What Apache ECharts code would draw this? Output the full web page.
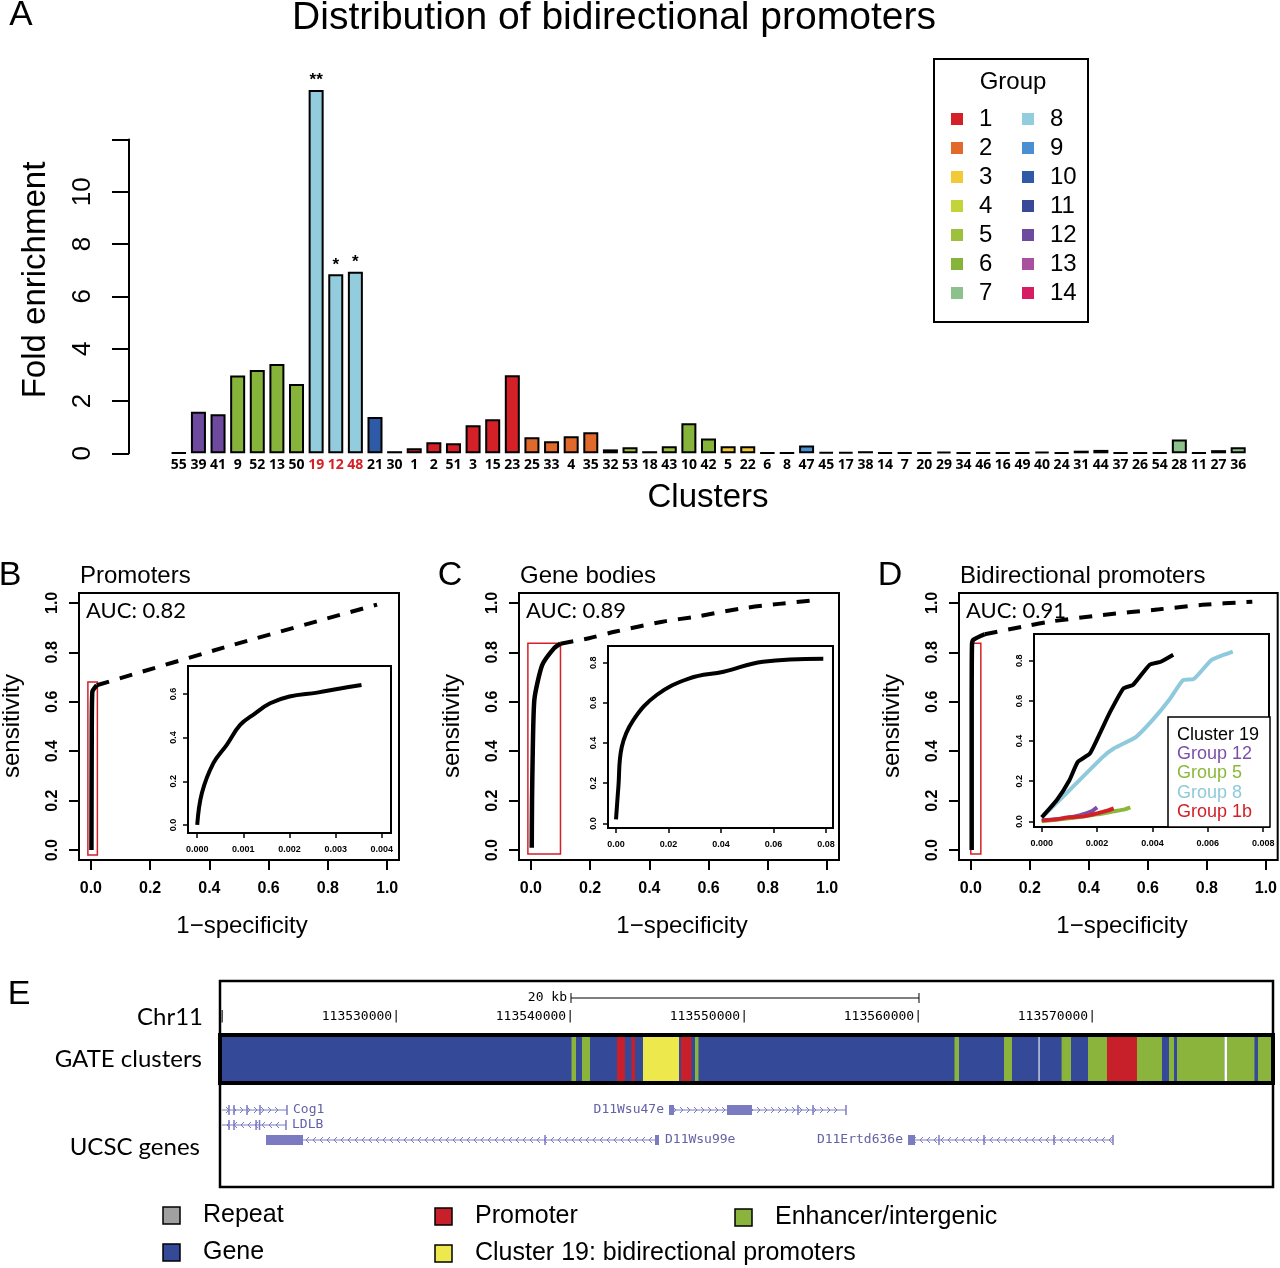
<!DOCTYPE html>
<html>
<head>
<meta charset="utf-8">
<script src="https://cdn.jsdelivr.net/npm/echarts@6/dist/echarts.min.js"></script>
<style>
html, body { margin: 0; padding: 0; background: #fff; }
#main { width: 1280px; height: 1268px; }
</style>
</head>
<body>
<div id="main"></div>
<script>
// ---- panel A data ----
var clusters = ['55','39','41','9','52','13','50','19','12','48','21','30','1','2','51','3','15','23','25','33','4','35','32','53','18','43','10','42','5','22','6','8','47','45','17','38','14','7','20','29','34','46','16','49','40','24','31','44','37','26','54','28','11','27','36'];
var enrichment = [0.02,1.59,1.49,2.97,3.18,3.41,2.65,13.89,6.84,6.94,1.39,0.08,0.19,0.42,0.38,1.07,1.3,2.98,0.61,0.46,0.65,0.8,0.15,0.23,0.08,0.27,1.15,0.57,0.27,0.27,0.02,0.02,0.3,0.05,0.05,0.08,0.03,0.03,0.03,0.06,0.03,0.03,0.03,0.03,0.06,0.03,0.1,0.13,0.03,0.03,0.03,0.53,0.03,0.12,0.23];
var clusterGroup = [13,12,12,6,6,6,6,8,8,8,10,11,1,1,1,1,1,1,2,2,2,2,5,5,5,5,6,6,3,3,4,4,9,14,14,14,14,14,14,14,14,14,14,14,14,14,14,14,14,14,14,7,14,14,7];
var groupLabels = ['1','2','3','4','5','6','7','8','9','10','11','12','13','14'];
var groupColors = ['#d42128','#e0692b','#f2c936','#c3d43a','#9dc13d','#86b43a','#8dc18b','#93cddd','#4a8fd1','#2f5aa8','#3a4898','#6e4a9e','#a9519f','#d61d63'];
var significance = { '19': '**', '12': '*', '48': '*' };
var redLabels = ['19', '12', '48'];

// ---- panels B-D data (ROC curves) ----
var mainTicks = [0, 0.2, 0.4, 0.6, 0.8, 1.0];
var rocBSolid = [[0.002,0],[0.003,0.45],[0.005,0.64],[0.02,0.667]];
var rocBDashed = [[0.02,0.667],[0.48,0.83],[0.966,0.993]];
var rocBInset = [[0,0],[0.0001,0.145],[0.00035,0.283],[0.00064,0.367],[0.00093,0.458],[0.00125,0.51],[0.00158,0.557],[0.002,0.588],[0.0026,0.606],[0.0031,0.625],[0.00356,0.641]];
var zoomBoxB = [-0.01, -0.02, 0.022, 0.68];

var rocCSolid = [[0.003,0.01],[0.004,0.2],[0.006,0.37],[0.012,0.61],[0.038,0.748],[0.078,0.816],[0.1,0.835]];
var rocCDashed = [[0.1,0.835],[0.196,0.857],[0.286,0.884],[0.444,0.924],[0.556,0.944],[0.714,0.978],[0.838,0.996],[0.956,1.01]];
var rocCInset = [[0,0.02],[0.0009,0.18],[0.0022,0.38],[0.0066,0.514],[0.0155,0.639],[0.028,0.722],[0.041,0.755],[0.056,0.805],[0.079,0.82]];
var zoomBoxC = [-0.01, -0.016, 0.1, 0.837];

var rocDSolid = [[0.003,0],[0.003,0.57],[0.004,0.83],[0.008,0.85],[0.047,0.873]];
var rocDDashed = [[0.047,0.873],[0.177,0.904],[0.267,0.924],[0.447,0.951],[0.639,0.974],[0.785,0.992],[0.954,1.005]];
var dCluster19 = [[0,0.02],[0.00054,0.105],[0.001,0.205],[0.0013,0.296],[0.00174,0.338],[0.0021,0.438],[0.00247,0.545],[0.00295,0.662],[0.0033,0.68],[0.0039,0.78],[0.0043,0.795],[0.00475,0.83]];
var dGroup8 = [[0,0.02],[0.001,0.155],[0.0022,0.32],[0.0026,0.363],[0.0034,0.42],[0.004,0.504],[0.0046,0.604],[0.0051,0.703],[0.0055,0.71],[0.0061,0.8],[0.0064,0.82],[0.0069,0.845]];
var dGroup12 = [[0,0.005],[0.0006,0.012],[0.0012,0.025],[0.0016,0.04],[0.0018,0.05],[0.002,0.07]];
var dGroup5 = [[0,0],[0.001,0.015],[0.002,0.035],[0.0026,0.05],[0.003,0.06],[0.0032,0.07]];
var dGroup1b = [[0,0.005],[0.0005,0.01],[0.001,0.02],[0.0015,0.025],[0.002,0.04],[0.0024,0.055],[0.0026,0.065]];
var zoomBoxD = [0, -0.016, 0.034, 0.837];
var dLegendNames = ['Cluster 19', 'Group 12', 'Group 5', 'Group 8', 'Group 1b'];
var dLegendColors = ['#000000', '#7b4fa8', '#8bb83b', '#8ecadb', '#d32028'];

// ---- panel E data (genome browser, chr11) ----
var regionStart = 113519828, regionEnd = 113580345;
var rulerTicks = [113520000, 113530000, 113540000, 113550000, 113560000, 113570000];
var scaleBar = [113540000, 113560000];
var segTypes = ['Gene', 'Promoter', 'Enhancer/intergenic', 'Cluster 19: bidirectional promoters', 'gap'];
var segColors = ['#344a98', '#c8202a', '#8ab43c', '#ede84c', '#ffffff'];
var segStart = [113519828,113540029,113540632,113542644,113543477,113544138,113546322,113547126,113562040,113564884,113566870,113568195,113569712,113570804,113572528,113574367,113574827,113577556,113577700,113579481];
var segEnd   = [113580345,113540287,113541092,113543103,113543678,113546207,113546925,113547327,113562299,113565344,113566930,113568735,113570804,113572528,113573965,113574654,113577556,113577700,113579280,113580345];
var segType  = [0,2,2,1,1,3,1,2,2,2,4,2,2,1,2,2,2,4,2,2];

var geneNames = ['Cog1', 'LDLB', 'D11Wsu99e', 'D11Wsu47e', 'D11Ertd636e'];
var geneStart = [113519943, 113519943, 113522472, 113545632, 113559367];
var geneEnd = [113523678, 113523621, 113545057, 113555804, 113571149];
var geneStrand = ['+', '-', '-', '+', '-'];
var geneRow = [0, 1, 2, 0, 2];
var geneLabelSide = ['right', 'right', 'right', 'left', 'left'];
var geneExons = [
    [113520345, 113520633, 113521380, 113522127, 113523678],
    [113520345, 113520633, 113521900, 113522100, 113523621],
    [113538506],
    [113553046, 113553908, 113555804],
    [113561149, 113563735, 113567758, 113571149]
];
var geneBlocks = [
    [],
    [],
    [[113522472, 113524598], [113544827, 113545057]],
    [[113545632, 113545919], [113548965, 113550402]],
    [[113559367, 113559770]]
];
var trackLegendLabels = ['Repeat', 'Gene', 'Promoter', 'Cluster 19: bidirectional promoters', 'Enhancer/intergenic'];
var trackLegendColors = ['#a0a0a0', '#344a98', '#c8202a', '#ede84c', '#8ab43c'];

var SANS = '"Liberation Sans", Arial, sans-serif';
var CAL = 'Lato, "Open Sans", sans-serif';
var MONO = '"DejaVu Sans Mono", monospace';

var grid = [], xAxis = [], yAxis = [], series = [], graphic = [];

function txt(x, y, s, font, opts) {
    opts = opts || {};
    return {
        type: 'text', x: x, y: y, rotation: opts.rotation || 0, z: 100,
        style: {
            text: s, font: font, fill: opts.fill || '#000',
            align: opts.align || 'center', verticalAlign: opts.va || 'middle'
        }
    };
}
function box(x, y, w, h, lw, fill) {
    return {
        type: 'rect', z: 100, shape: { x: x, y: y, width: w, height: h },
        style: { fill: fill || 'transparent', stroke: '#000', lineWidth: lw }
    };
}

// ================= A =================
var A_BASE = 453.3, A_UNIT = 26.16;
grid.push({ left: 169, top: A_BASE - 14 * A_UNIT, width: 1079, height: 14 * A_UNIT });
xAxis.push({
    gridIndex: 0, type: 'category', data: clusters,
    axisLine: { show: false }, axisTick: { show: false },
    axisLabel: {
        interval: 0, margin: 5, fontSize: 14, fontWeight: 'bold',
        fontFamily: '"Liberation Sans Narrow", "Open Sans", sans-serif',
        color: function (v) { return redLabels.indexOf(v) >= 0 ? '#d42128' : '#000'; }
    }
});
yAxis.push({ gridIndex: 0, type: 'value', min: 0, max: 14, show: false });

grid.push({ left: 129, top: A_BASE - 12 * A_UNIT, width: 10, height: 12 * A_UNIT });
xAxis.push({ gridIndex: 1, type: 'value', show: false });
yAxis.push({
    gridIndex: 1, type: 'value', min: 0, max: 12, interval: 2,
    axisLine: { show: true, onZero: false, lineStyle: { color: '#000', width: 2 } },
    axisTick: { show: true, length: 17, lineStyle: { color: '#000', width: 2 } },
    splitLine: { show: false },
    axisLabel: {
        rotate: 90, fontSize: 26, color: '#000', fontFamily: SANS, margin: 33,
        formatter: function (v) { return v === 12 ? '' : String(v); }
    }
});

series.push({
    type: 'bar', xAxisIndex: 0, yAxisIndex: 0, barWidth: 15,
    data: enrichment.map(function (v, i) {
        var sig = significance[clusters[i]];
        return {
            value: v,
            itemStyle: { color: groupColors[clusterGroup[i] - 1], borderColor: '#000', borderWidth: 2 },
            label: sig ? { show: true, formatter: sig } : { show: false }
        };
    }),
    label: { position: 'top', distance: 1, fontSize: 17, fontWeight: 'bold', color: '#000', fontFamily: SANS }
});

graphic.push(txt(21, 15, 'A', '35px ' + SANS));
graphic.push(txt(614, 18, 'Distribution of bidirectional promoters', '39px ' + SANS));
graphic.push(txt(36, 280, 'Fold enrichment', '33px ' + SANS, { rotation: Math.PI / 2 }));
graphic.push(txt(708, 498, 'Clusters', '33px ' + SANS));

// group legend
graphic.push(box(934, 59, 154, 263, 2));
graphic.push(txt(1013, 82, 'Group', '24px ' + SANS));
groupLabels.forEach(function (g, i) {
    var col = i < 7 ? 0 : 1, row = i % 7;
    var y = 119 + row * 29;
    var sx = col === 0 ? 951 : 1022;
    graphic.push({ type: 'rect', z: 100, shape: { x: sx, y: y - 6, width: 12, height: 12 }, style: { fill: groupColors[i] } });
    graphic.push(txt(sx + 28, y, g, '24px ' + SANS, { align: 'left' }));
});

// ================= B, C, D =================
function rocPanel(ox, letter, title, auc, solid, dashed, zb, inset) {
    var gi = grid.length;
    grid.push({ left: 79 + ox, top: 593, width: 320, height: 267, show: true, borderColor: '#000', borderWidth: 2, backgroundColor: 'transparent' });
    xAxis.push({
        gridIndex: gi, type: 'value', min: -0.04, max: 1.04,
        axisLine: { show: false, onZero: false }, splitLine: { show: false },
        axisTick: { show: true, customValues: mainTicks, length: 10, lineStyle: { color: '#000', width: 2 } },
        axisLabel: { customValues: mainTicks, margin: 21, fontSize: 16, fontWeight: 'bold', color: '#000', fontFamily: SANS,
            formatter: function (v) { return v.toFixed(1); } }
    });
    yAxis.push({
        gridIndex: gi, type: 'value', min: -0.04, max: 1.04,
        axisLine: { show: false, onZero: false }, splitLine: { show: false },
        axisTick: { show: true, customValues: mainTicks, length: 10, lineStyle: { color: '#000', width: 2 } },
        axisLabel: { customValues: mainTicks, rotate: 90, margin: 18, fontSize: 16, fontWeight: 'bold', color: '#000', fontFamily: SANS,
            formatter: function (v) { return v.toFixed(1); } }
    });
    series.push({
        type: 'line', xAxisIndex: gi, yAxisIndex: gi, data: solid, symbol: 'none', smooth: 0.2,
        lineStyle: { color: '#000', width: 4.5 }, z: 3,
        markArea: {
            silent: true,
            itemStyle: { color: 'rgba(0,0,0,0)', borderColor: '#d42128', borderWidth: 1.5 },
            data: [[{ coord: [zb[0], zb[1]] }, { coord: [zb[2], zb[3]] }]]
        }
    });
    series.push({
        type: 'line', xAxisIndex: gi, yAxisIndex: gi, data: dashed, symbol: 'none', smooth: 0.3,
        lineStyle: { color: '#000', width: 4, type: [13, 11] }, z: 3
    });

    var ii = grid.length;
    grid.push({ left: inset.left, top: inset.top, width: inset.width, height: inset.height, show: true, borderColor: '#000', borderWidth: 2, backgroundColor: '#fff' });
    xAxis.push({
        gridIndex: ii, type: 'value', min: inset.xmin, max: inset.xmax,
        axisLine: { show: false, onZero: false }, splitLine: { show: false },
        axisTick: { show: true, customValues: inset.xticks, length: 5, lineStyle: { color: '#000', width: 1.5 } },
        axisLabel: { customValues: inset.xticks, margin: 12, fontSize: 9, fontWeight: 'bold', color: '#000', fontFamily: SANS,
            formatter: function (v) { return v.toFixed(inset.xdigits); } }
    });
    yAxis.push({
        gridIndex: ii, type: 'value', min: inset.ymin, max: inset.ymax,
        axisLine: { show: false, onZero: false }, splitLine: { show: false },
        axisTick: { show: true, customValues: inset.yticks, length: 5, lineStyle: { color: '#000', width: 1.5 } },
        axisLabel: { customValues: inset.yticks, rotate: 90, margin: 10, fontSize: 9, fontWeight: 'bold', color: '#000', fontFamily: SANS,
            formatter: function (v) { return v.toFixed(1); } }
    });
    inset.curves.forEach(function (c) {
        series.push({
            type: 'line', xAxisIndex: ii, yAxisIndex: ii, data: c.data, symbol: 'none', smooth: inset.smooth,
            lineStyle: { color: c.color, width: 4 }, z: 4
        });
    });

    graphic.push(txt(10 + ox, 576, letter, '34px ' + SANS));
    graphic.push(txt(80 + ox, 576, title, '24px ' + SANS, { align: 'left' }));
    graphic.push(txt(86 + ox, 611, 'AUC: ' + auc, '22px ' + CAL, { align: 'left' }));
    graphic.push(txt(12 + ox, 726, 'sensitivity', '24px ' + SANS, { rotation: Math.PI / 2 }));
    graphic.push(txt(242 + ox, 926, '1\u2212specificity', '24px ' + SANS));
}

rocPanel(0, 'B', 'Promoters', '0.82', rocBSolid, rocBDashed, zoomBoxB, {
    left: 188, top: 666, width: 203, height: 167,
    xmin: -0.0002, xmax: 0.0042, ymin: -0.037, ymax: 0.728,
    xticks: [0, 0.001, 0.002, 0.003, 0.004], yticks: [0, 0.2, 0.4, 0.6], xdigits: 3, smooth: 0.4,
    curves: [{ data: rocBInset, color: '#000' }]
});
rocPanel(440, 'C', 'Gene bodies', '0.89', rocCSolid, rocCDashed, zoomBoxC, {
    left: 608, top: 646, width: 225, height: 182,
    xmin: -0.00305, xmax: 0.0827, ymin: -0.023, ymax: 0.883,
    xticks: [0, 0.02, 0.04, 0.06, 0.08], yticks: [0, 0.2, 0.4, 0.6, 0.8], xdigits: 2, smooth: 0.4,
    curves: [{ data: rocCInset, color: '#000' }]
});
rocPanel(880, 'D', 'Bidirectional promoters', '0.91', rocDSolid, rocDDashed, zoomBoxD, {
    left: 1034, top: 634, width: 235, height: 193,
    xmin: -0.00028, xmax: 0.00821, ymin: -0.028, ymax: 0.933,
    xticks: [0, 0.002, 0.004, 0.006, 0.008], yticks: [0, 0.2, 0.4, 0.6, 0.8], xdigits: 3, smooth: 0.15,
    curves: [
        { data: dGroup12, color: dLegendColors[1] },
        { data: dGroup5, color: dLegendColors[2] },
        { data: dGroup1b, color: dLegendColors[4] },
        { data: dGroup8, color: dLegendColors[3] },
        { data: dCluster19, color: dLegendColors[0] }
    ]
});
graphic.push(box(1168, 717, 102, 110, 1.5, '#fff'));
dLegendNames.forEach(function (n, i) {
    graphic.push(txt(1177, 735 + i * 19.2, n, '18px ' + SANS, { align: 'left', fill: dLegendColors[i] }));
});

// ================= E =================
var GENE_COL = '#7b7bc2', GENE_LABEL = '#6262a6';
function trackGrid(top, height) {
    var gi = grid.length;
    grid.push({ left: 220, top: top, width: 1053, height: height });
    xAxis.push({ gridIndex: gi, type: 'value', min: regionStart, max: regionEnd, show: false });
    yAxis.push({ gridIndex: gi, type: 'value', min: 0, max: 1, show: false });
    return gi;
}
var rulerG = trackGrid(983, 50);
var bandG = trackGrid(1037, 44);
var geneG = trackGrid(1085, 100);

series.push({
    type: 'custom', xAxisIndex: rulerG, yAxisIndex: rulerG, clip: false,
    data: rulerTicks.map(function (t) { return [t, 0]; }),
    renderItem: function (params, api) {
        var cs = params.coordSys;
        var x = api.coord([api.value(0), 0])[0];
        var fits = x - 90 > cs.x;
        return {
            type: 'text', x: x + 3, y: cs.y + 34,
            style: { text: fits ? String(api.value(0)) + '|' : '|', align: 'right', verticalAlign: 'middle', font: '13px ' + MONO, fill: '#000' }
        };
    }
});
series.push({
    type: 'custom', xAxisIndex: rulerG, yAxisIndex: rulerG, clip: false,
    data: [[scaleBar[0], scaleBar[1]]],
    renderItem: function (params, api) {
        var cs = params.coordSys, y = cs.y + 15;
        var x0 = api.coord([api.value(0), 0])[0], x1 = api.coord([api.value(1), 0])[0];
        var st = { stroke: '#000', lineWidth: 1 };
        return {
            type: 'group', children: [
                { type: 'line', shape: { x1: x0, y1: y, x2: x1, y2: y }, style: st },
                { type: 'line', shape: { x1: x0, y1: y - 5, x2: x0, y2: y + 5 }, style: st },
                { type: 'line', shape: { x1: x1, y1: y - 5, x2: x1, y2: y + 5 }, style: st },
                { type: 'text', x: x0 - 4, y: y, style: { text: '20 kb', align: 'right', verticalAlign: 'middle', font: '13px ' + MONO, fill: '#000' } }
            ]
        };
    }
});
series.push({
    type: 'custom', xAxisIndex: bandG, yAxisIndex: bandG,
    data: segStart.map(function (s, i) { return [s, segEnd[i], segType[i]]; }),
    renderItem: function (params, api) {
        var cs = params.coordSys;
        var x0 = api.coord([api.value(0), 0])[0], x1 = api.coord([api.value(1), 0])[0];
        return { type: 'rect', shape: { x: x0, y: cs.y, width: Math.max(x1 - x0, 1), height: cs.height }, style: { fill: segColors[api.value(2)] } };
    }
});
series.push({
    type: 'custom', xAxisIndex: geneG, yAxisIndex: geneG, clip: false,
    data: geneStart.map(function (s, i) { return [s, geneEnd[i]]; }),
    renderItem: function (params, api) {
        var i = params.dataIndex, cs = params.coordSys;
        var y = cs.y + 25 + geneRow[i] * 15;
        var x0 = api.coord([geneStart[i], 0])[0], x1 = api.coord([geneEnd[i], 0])[0];
        var st = { stroke: GENE_COL, lineWidth: 1, fill: null };
        var kids = [{ type: 'line', shape: { x1: x0, y1: y, x2: x1, y2: y }, style: st }];
        var dir = geneStrand[i] === '+' ? 1 : -1;
        for (var cx = x0 + 6; cx < x1 - 3; cx += 7) {
            kids.push({ type: 'polyline', shape: { points: [[cx - 2 * dir, y - 3], [cx + dir, y], [cx - 2 * dir, y + 3]] }, style: st });
        }
        geneExons[i].forEach(function (p) {
            var ex = api.coord([p, 0])[0];
            kids.push({ type: 'line', shape: { x1: ex, y1: y - 5, x2: ex, y2: y + 5 }, style: { stroke: GENE_COL, lineWidth: 1.5 } });
        });
        geneBlocks[i].forEach(function (b) {
            var bx0 = api.coord([b[0], 0])[0], bx1 = api.coord([b[1], 0])[0];
            kids.push({ type: 'rect', shape: { x: bx0, y: y - 5, width: Math.max(bx1 - bx0, 3), height: 10 }, style: { fill: GENE_COL } });
        });
        var right = geneLabelSide[i] === 'right';
        kids.push({ type: 'text', x: right ? x1 + 6 : x0 - 5, y: y,
            style: { text: geneNames[i], align: right ? 'left' : 'right', verticalAlign: 'middle', font: '13px ' + MONO, fill: GENE_LABEL } });
        return { type: 'group', children: kids };
    }
});

graphic.push(txt(19, 995, 'E', '34px ' + SANS));
graphic.push(box(220, 981, 1053, 206, 2.5));
graphic.push(box(220, 1035, 1053, 48, 4));
graphic.push(txt(203, 1017, 'Chr11', '24px ' + CAL, { align: 'right' }));
graphic.push(txt(202, 1059, 'GATE clusters', '24px ' + CAL, { align: 'right' }));
graphic.push(txt(200, 1147, 'UCSC genes', '24px ' + CAL, { align: 'right' }));

var legPos = [[163, 1207], [163, 1244], [435, 1208], [435, 1245], [735, 1209]];
trackLegendLabels.forEach(function (l, i) {
    var p = legPos[i];
    graphic.push({ type: 'rect', z: 100, shape: { x: p[0], y: p[1], width: 17, height: 17 }, style: { fill: trackLegendColors[i], stroke: '#000', lineWidth: 1.5 } });
    graphic.push(txt(p[0] + 40, p[1] + 8.5, l, '25px ' + SANS, { align: 'left' }));
});

var chart = echarts.init(document.getElementById('main'));
chart.setOption({
    animation: false,
    backgroundColor: '#fff',
    grid: grid,
    xAxis: xAxis,
    yAxis: yAxis,
    series: series,
    graphic: graphic
});
window.onresize = chart.resize;
</script>
</body>
</html>
